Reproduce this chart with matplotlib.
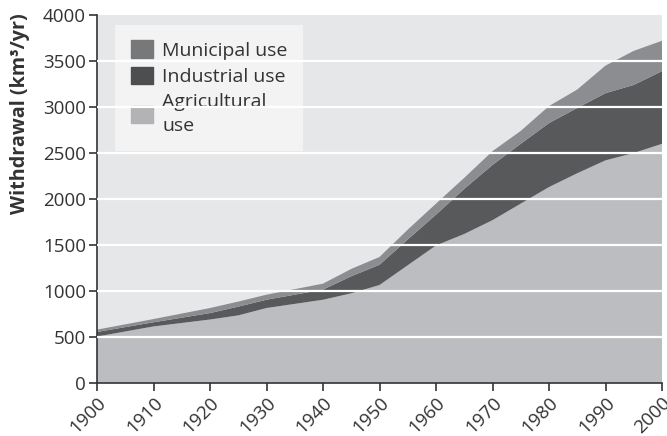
import numpy as np
import matplotlib
matplotlib.use("Agg")
import matplotlib.pyplot as plt
from matplotlib.patches import Patch

years = [1900, 1910, 1920, 1925, 1930, 1940, 1945, 1950, 1955, 1960,
         1965, 1970, 1975, 1980, 1985, 1990, 1995, 2000]
agricultural = [505, 615, 690, 735, 815, 905, 975, 1065, 1280, 1495,
                1620, 1770, 1950, 2130, 2280, 2420, 2500, 2600]
industrial = [50, 45, 70, 95, 90, 110, 185, 220, 280, 335,
              490, 600, 650, 695, 710, 730, 740, 790]
municipal = [25, 35, 55, 55, 55, 65, 80, 85, 107, 120,
             120, 150, 140, 185, 200, 300, 370, 330]

plt.rcParams['font.family'] = ['Open Sans', 'DejaVu Sans']
text_col = '#333333'

fig = plt.figure(figsize=(6.67, 4.36), dpi=100)
ax = fig.add_axes([97/667, 53/436, 565/667, 368/436])
ax.set_facecolor('#e6e7e9')

ax.stackplot(years, agricultural, industrial, municipal,
             colors=['#bcbdc0', '#58595b', '#8c8d90'], linewidth=0, zorder=2)

for v in range(500, 4000, 500):
    ax.axhline(v, color='white', lw=1.6, zorder=6)

ax.set_xlim(1900, 2000)
ax.set_ylim(0, 4000)
ax.set_xticks(range(1900, 2001, 10))
ax.set_yticks(range(0, 4001, 500))
ax.tick_params(colors=text_col, labelsize=13.5, length=6, width=1.2,
               direction='out', pad=2)
for lab in ax.get_xticklabels():
    lab.set_rotation(45)
    lab.set_ha('right')
    lab.set_rotation_mode('anchor')
for s in ['top', 'right']:
    ax.spines[s].set_visible(False)
for s in ['left', 'bottom']:
    ax.spines[s].set_color(text_col)
    ax.spines[s].set_linewidth(1.2)

ax.set_ylabel('Withdrawal (km³/yr)', fontsize=14.2, fontweight='bold', color=text_col)
ax.yaxis.set_label_coords(-0.118, 0.732)

handles = [Patch(color='#77787a'), Patch(color='#4d4e50'), Patch(color='#b3b3b5')]
labels = ['Municipal use', 'Industrial use', 'Agricultural\nuse']
leg = ax.legend(handles, labels, loc='upper left', bbox_to_anchor=(0.032, 0.973),
                borderaxespad=0, frameon=True, fancybox=False, fontsize=14,
                handlelength=1.13, handleheight=1.0, handletextpad=0.5,
                labelspacing=0.35, borderpad=0.8, labelcolor=text_col)
leg.get_texts()[2].set_linespacing(1.45)
leg.get_frame().set_facecolor('#f3f3f4')
leg.get_frame().set_edgecolor('none')
leg.get_frame().set_alpha(1)
leg.set_zorder(4)

fig.savefig('out.png', dpi=100)
